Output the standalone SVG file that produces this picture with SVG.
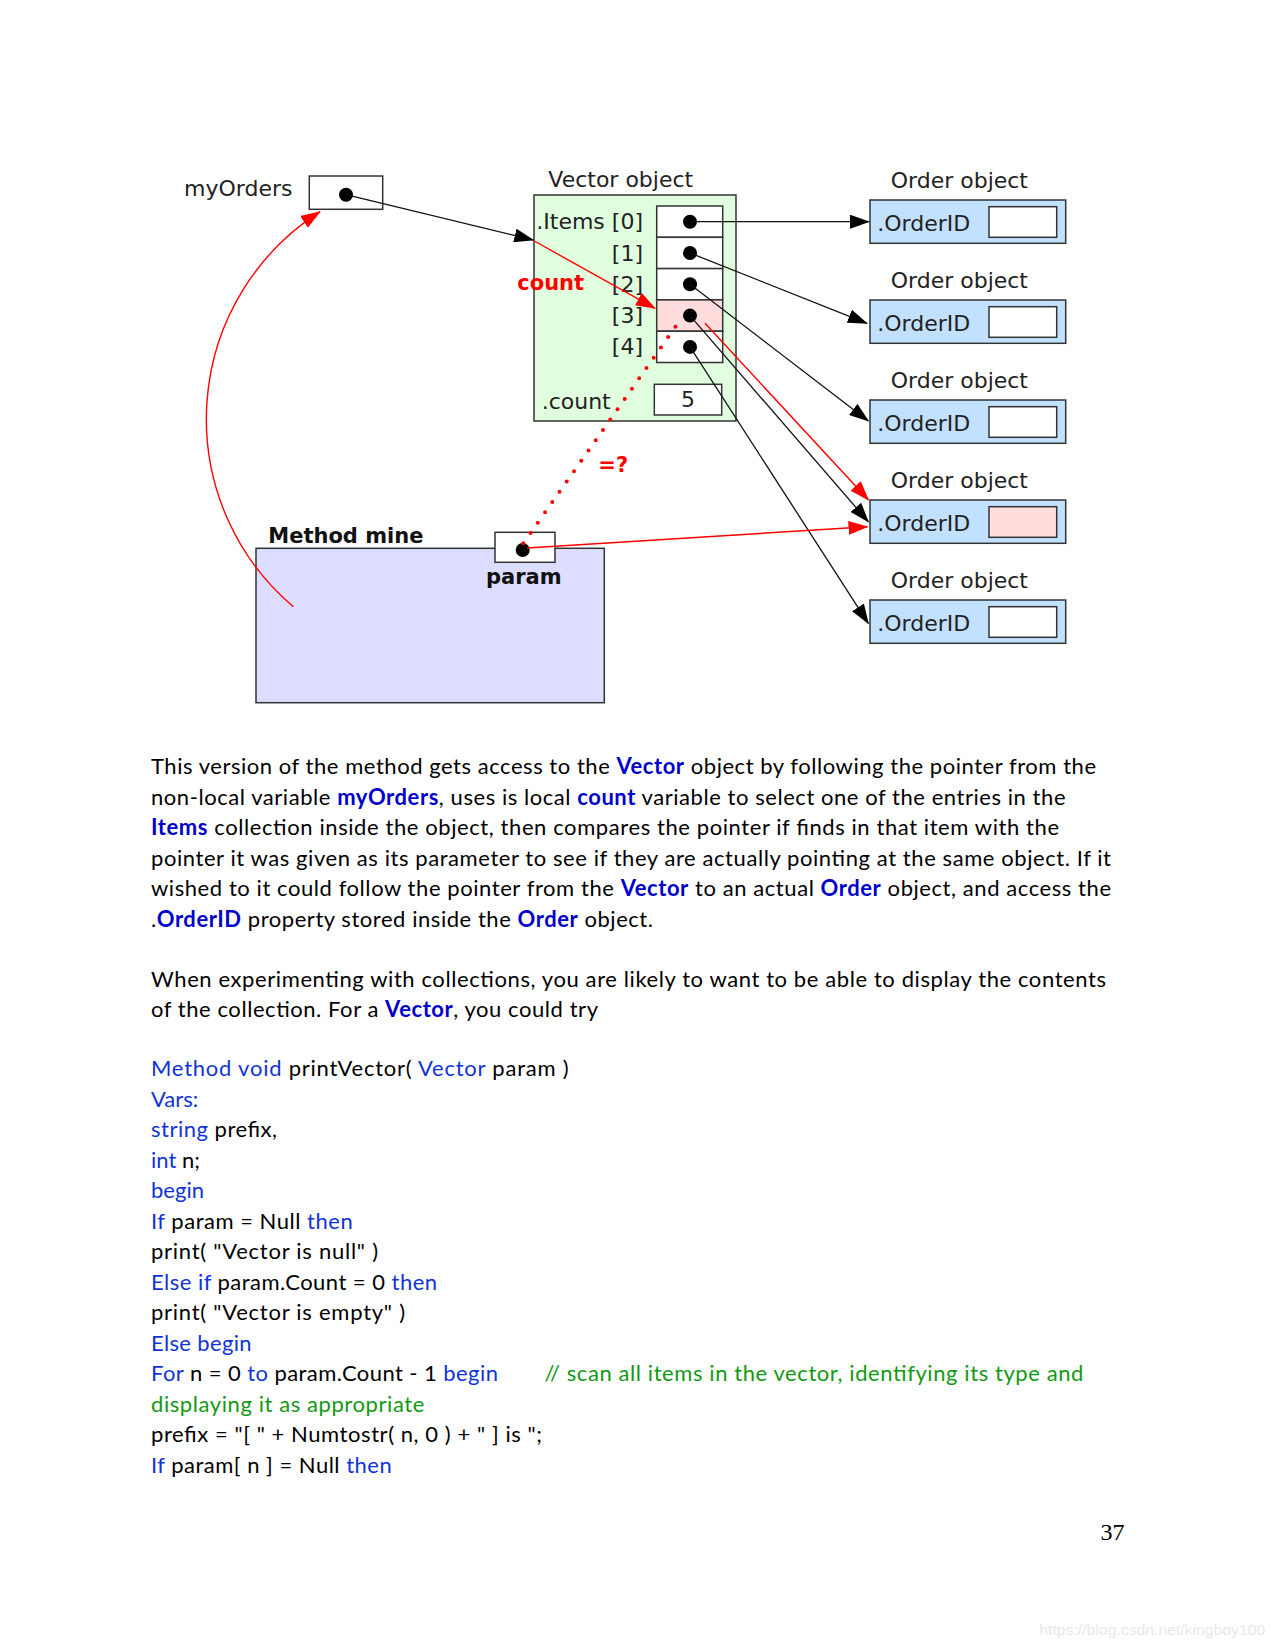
<svg xmlns="http://www.w3.org/2000/svg" width="1275" height="1650" viewBox="0 0 1275 1650">
<style>
.lbl{font-family:"DejaVu Sans",Verdana,sans-serif;font-size:22px;fill:#222}
.bl{font-family:"DejaVu Sans",Verdana,sans-serif;font-size:21px;font-weight:bold;fill:#111}
.rb{font-family:"DejaVu Sans",Verdana,sans-serif;font-size:21px;font-weight:bold;fill:#ff0000}
.box{stroke:#333;stroke-width:1.5}
.dot{fill:#000}
.bk{fill:none;stroke:#111;stroke-width:1.3}
.rd{fill:none;stroke:#ff0000;stroke-width:1.4}
.body{font-family:Lato,"Liberation Sans",sans-serif;font-size:22px;fill:#000}
.kb{fill:#0000cc;font-weight:bold}
.kw{fill:#1133d6}
.cm{fill:#129912}
</style>
<defs>
<marker id="ab" markerUnits="userSpaceOnUse" viewBox="0 0 20 14" markerWidth="20" markerHeight="14" refX="19" refY="7" orient="auto"><path d="M0,0 L20,7 L0,14 z" fill="#000"/></marker>
<marker id="ar" markerUnits="userSpaceOnUse" viewBox="0 0 20 14" markerWidth="20" markerHeight="14" refX="19" refY="7" orient="auto"><path d="M0,0 L20,7 L0,14 z" fill="#ff0000"/></marker>
</defs>
<rect width="1275" height="1650" fill="#fff"/>

<g id="myOrders">
<text class="lbl" x="184" y="196" font-size="21.5">myOrders</text>
<rect class="box" x="309.3" y="176" width="73.4" height="33.3" fill="#fff"/>
<circle class="dot" cx="346" cy="194.7" r="7"/>
</g>

<g id="vector">
<text class="lbl" x="548.3" y="186.7">Vector object</text>
<rect class="box" x="534" y="195" width="202" height="226" fill="#dfffdf"/>
<rect class="box" x="656.7" y="206" width="66" height="31.3" fill="#fff"/>
<rect class="box" x="656.7" y="237.3" width="66" height="31.3" fill="#fff"/>
<rect class="box" x="656.7" y="268.6" width="66" height="31.3" fill="#fff"/>
<rect class="box" x="656.7" y="299.9" width="66" height="31.3" fill="#ffdddd"/>
<rect class="box" x="656.7" y="331.2" width="66" height="31.3" fill="#fff"/>
<circle class="dot" cx="690" cy="221.7" r="7"/>
<circle class="dot" cx="690" cy="253" r="7"/>
<circle class="dot" cx="690" cy="284.3" r="7"/>
<circle class="dot" cx="690" cy="315.6" r="7"/>
<circle class="dot" cx="690" cy="346.9" r="7"/>
<text class="lbl" x="643" y="229" text-anchor="end" font-size="21.5">.Items [0]</text>
<text class="lbl" x="643" y="260.5" text-anchor="end" font-size="21.5">[1]</text>
<text class="lbl" x="643" y="291.7" text-anchor="end" font-size="21.5">[2]</text>
<text class="lbl" x="643" y="323" text-anchor="end" font-size="21.5">[3]</text>
<text class="lbl" x="643" y="354.3" text-anchor="end" font-size="21.5">[4]</text>
<text class="lbl" x="541.7" y="409.3" font-size="21.5">.count</text>
<rect class="box" x="654.3" y="384.3" width="67.4" height="30.7" fill="#fff"/>
<text class="lbl" x="688" y="407.3" text-anchor="middle">5</text>
<text class="rb" x="517.3" y="290">count</text>
</g>

<g id="order0">
<text class="lbl" x="890.7" y="188.3">Order object</text>
<rect class="box" x="870" y="200" width="195.7" height="43.3" fill="#c2e0ff"/>
<rect class="box" x="989" y="206.7" width="67.7" height="30.6" fill="#fff"/>
<text class="lbl" x="877.3" y="231">.OrderID</text>
</g>
<g id="order1">
<text class="lbl" x="890.7" y="288.3">Order object</text>
<rect class="box" x="870" y="300" width="195.7" height="43.3" fill="#c2e0ff"/>
<rect class="box" x="989" y="306.7" width="67.7" height="30.6" fill="#fff"/>
<text class="lbl" x="877.3" y="331">.OrderID</text>
</g>
<g id="order2">
<text class="lbl" x="890.7" y="388.3">Order object</text>
<rect class="box" x="870" y="400" width="195.7" height="43.3" fill="#c2e0ff"/>
<rect class="box" x="989" y="406.7" width="67.7" height="30.6" fill="#fff"/>
<text class="lbl" x="877.3" y="431">.OrderID</text>
</g>
<g id="order3">
<text class="lbl" x="890.7" y="488.3">Order object</text>
<rect class="box" x="870" y="500" width="195.7" height="43.3" fill="#c2e0ff"/>
<rect class="box" x="989" y="506.7" width="67.7" height="30.6" fill="#ffdddd"/>
<text class="lbl" x="877.3" y="531">.OrderID</text>
</g>
<g id="order4">
<text class="lbl" x="890.7" y="588.3">Order object</text>
<rect class="box" x="870" y="600" width="195.7" height="43.3" fill="#c2e0ff"/>
<rect class="box" x="989" y="606.7" width="67.7" height="30.6" fill="#fff"/>
<text class="lbl" x="877.3" y="631">.OrderID</text>
</g>

<g id="method">
<text class="bl" x="268.3" y="542.7">Method mine</text>
<rect class="box" x="256" y="548.3" width="348.3" height="154.4" fill="#ddddff"/>
</g>
<g id="param">
<rect class="box" x="495" y="532.3" width="60" height="30" fill="#fff"/>
<circle class="dot" cx="522.7" cy="550" r="7"/>
<text class="bl" x="486" y="584.3">param</text>
</g>

<g id="connectors">
<path class="bk" d="M346,194.7 L533.3,240" marker-end="url(#ab)"/>
<path class="bk" d="M690,221.7 L869,221.7" marker-end="url(#ab)"/>
<path class="bk" d="M690,253 L867,323.3" marker-end="url(#ab)"/>
<path class="bk" d="M690,284.3 L868.3,421" marker-end="url(#ab)"/>
<path class="bk" d="M690,315.6 L868.3,521.7" marker-end="url(#ab)"/>
<path class="bk" d="M690,346.9 L868.3,623.3" marker-end="url(#ab)"/>
<path class="rd" d="M534.3,241 L655,308.3" marker-end="url(#ar)"/>
<path class="rd" d="M705,323.3 L868.5,500" marker-end="url(#ar)"/>
<path class="rd" d="M527,548 L867.5,526.7" marker-end="url(#ar)"/>
<path d="M523.3,543.3 L676.7,325" fill="none" stroke="#ff0000" stroke-width="4" stroke-linecap="round" stroke-dasharray="0 12.6"/>
<path class="rd" d="M293.3,606.7 A246 246 0 0 1 320,211.7" marker-end="url(#ar)"/>
<text class="rb" x="598.3" y="471.7">=?</text>
</g>

<g id="body">
<text class="body" x="151" y="774" textLength="945" lengthAdjust="spacing">This version of the method gets access to the <tspan class="kb">Vector</tspan> object by following the pointer from the</text>
<text class="body" x="151" y="804.5" textLength="914.5" lengthAdjust="spacing">non-local variable <tspan class="kb">myOrders</tspan>, uses is local <tspan class="kb">count</tspan> variable to select one of the entries in the</text>
<text class="body" x="151" y="835" textLength="908" lengthAdjust="spacing"><tspan class="kb">Items</tspan> collection inside the object, then compares the pointer if finds in that item with the</text>
<text class="body" x="151" y="865.5" textLength="960" lengthAdjust="spacing">pointer it was given as its parameter to see if they are actually pointing at the same object. If it</text>
<text class="body" x="151" y="896" textLength="960" lengthAdjust="spacing">wished to it could follow the pointer from the <tspan class="kb">Vector</tspan> to an actual <tspan class="kb">Order</tspan> object, and access the</text>
<text class="body" x="151" y="926.5" textLength="502" lengthAdjust="spacing">.<tspan class="kb">OrderID</tspan> property stored inside the <tspan class="kb">Order</tspan> object.</text>
<text class="body" x="151" y="987" textLength="955" lengthAdjust="spacing">When experimenting with collections, you are likely to want to be able to display the contents</text>
<text class="body" x="151" y="1017" textLength="447" lengthAdjust="spacing">of the collection. For a <tspan class="kb">Vector</tspan>, you could try</text>

<text class="body" x="151" y="1076" textLength="417.6" lengthAdjust="spacing"><tspan class="kw">Method void</tspan> printVector( <tspan class="kw">Vector</tspan> param )</text>
<text class="body" x="151" y="1106.5"><tspan class="kw">Vars:</tspan></text>
<text class="body" x="151" y="1137" textLength="126" lengthAdjust="spacing"><tspan class="kw">string</tspan> prefix,</text>
<text class="body" x="151" y="1167.5"><tspan class="kw">int</tspan> n;</text>
<text class="body" x="151" y="1198"><tspan class="kw">begin</tspan></text>
<text class="body" x="151" y="1228.5" textLength="201.7" lengthAdjust="spacing"><tspan class="kw">If</tspan> param = Null <tspan class="kw">then</tspan></text>
<text class="body" x="151" y="1259" textLength="227" lengthAdjust="spacing">print( "Vector is null" )</text>
<text class="body" x="151" y="1289.5" textLength="286" lengthAdjust="spacing"><tspan class="kw">Else if</tspan> param.Count = 0 <tspan class="kw">then</tspan></text>
<text class="body" x="151" y="1320" textLength="254" lengthAdjust="spacing">print( "Vector is empty" )</text>
<text class="body" x="151" y="1350.5" textLength="100.6" lengthAdjust="spacing"><tspan class="kw">Else begin</tspan></text>
<text class="body" x="151" y="1381" textLength="347" lengthAdjust="spacing"><tspan class="kw">For</tspan> n = 0 <tspan class="kw">to</tspan> param.Count - 1 <tspan class="kw">begin</tspan></text>
<text class="body cm" x="544.4" y="1381" textLength="539" lengthAdjust="spacing">// scan all items in the vector, identifying its type and</text>
<text class="body cm" x="151" y="1411.5" textLength="273.3" lengthAdjust="spacing">displaying it as appropriate</text>
<text class="body" x="151" y="1442" textLength="391" lengthAdjust="spacing">prefix = "[ " + Numtostr( n, 0 ) + " ] is ";</text>
<text class="body" x="151" y="1472.5" textLength="240.7" lengthAdjust="spacing"><tspan class="kw">If</tspan> param[ n ] = Null <tspan class="kw">then</tspan></text>
</g>

<text x="1100.5" y="1540" font-family="'Liberation Serif','Times New Roman',serif" font-size="24" fill="#000">37</text>
<text x="1039.3" y="1635" font-family="'Liberation Sans',Arial,sans-serif" font-size="14.5" fill="#e8e8e8" textLength="226" lengthAdjust="spacingAndGlyphs">https://blog.csdn.net/kingboy100</text>
</svg>
